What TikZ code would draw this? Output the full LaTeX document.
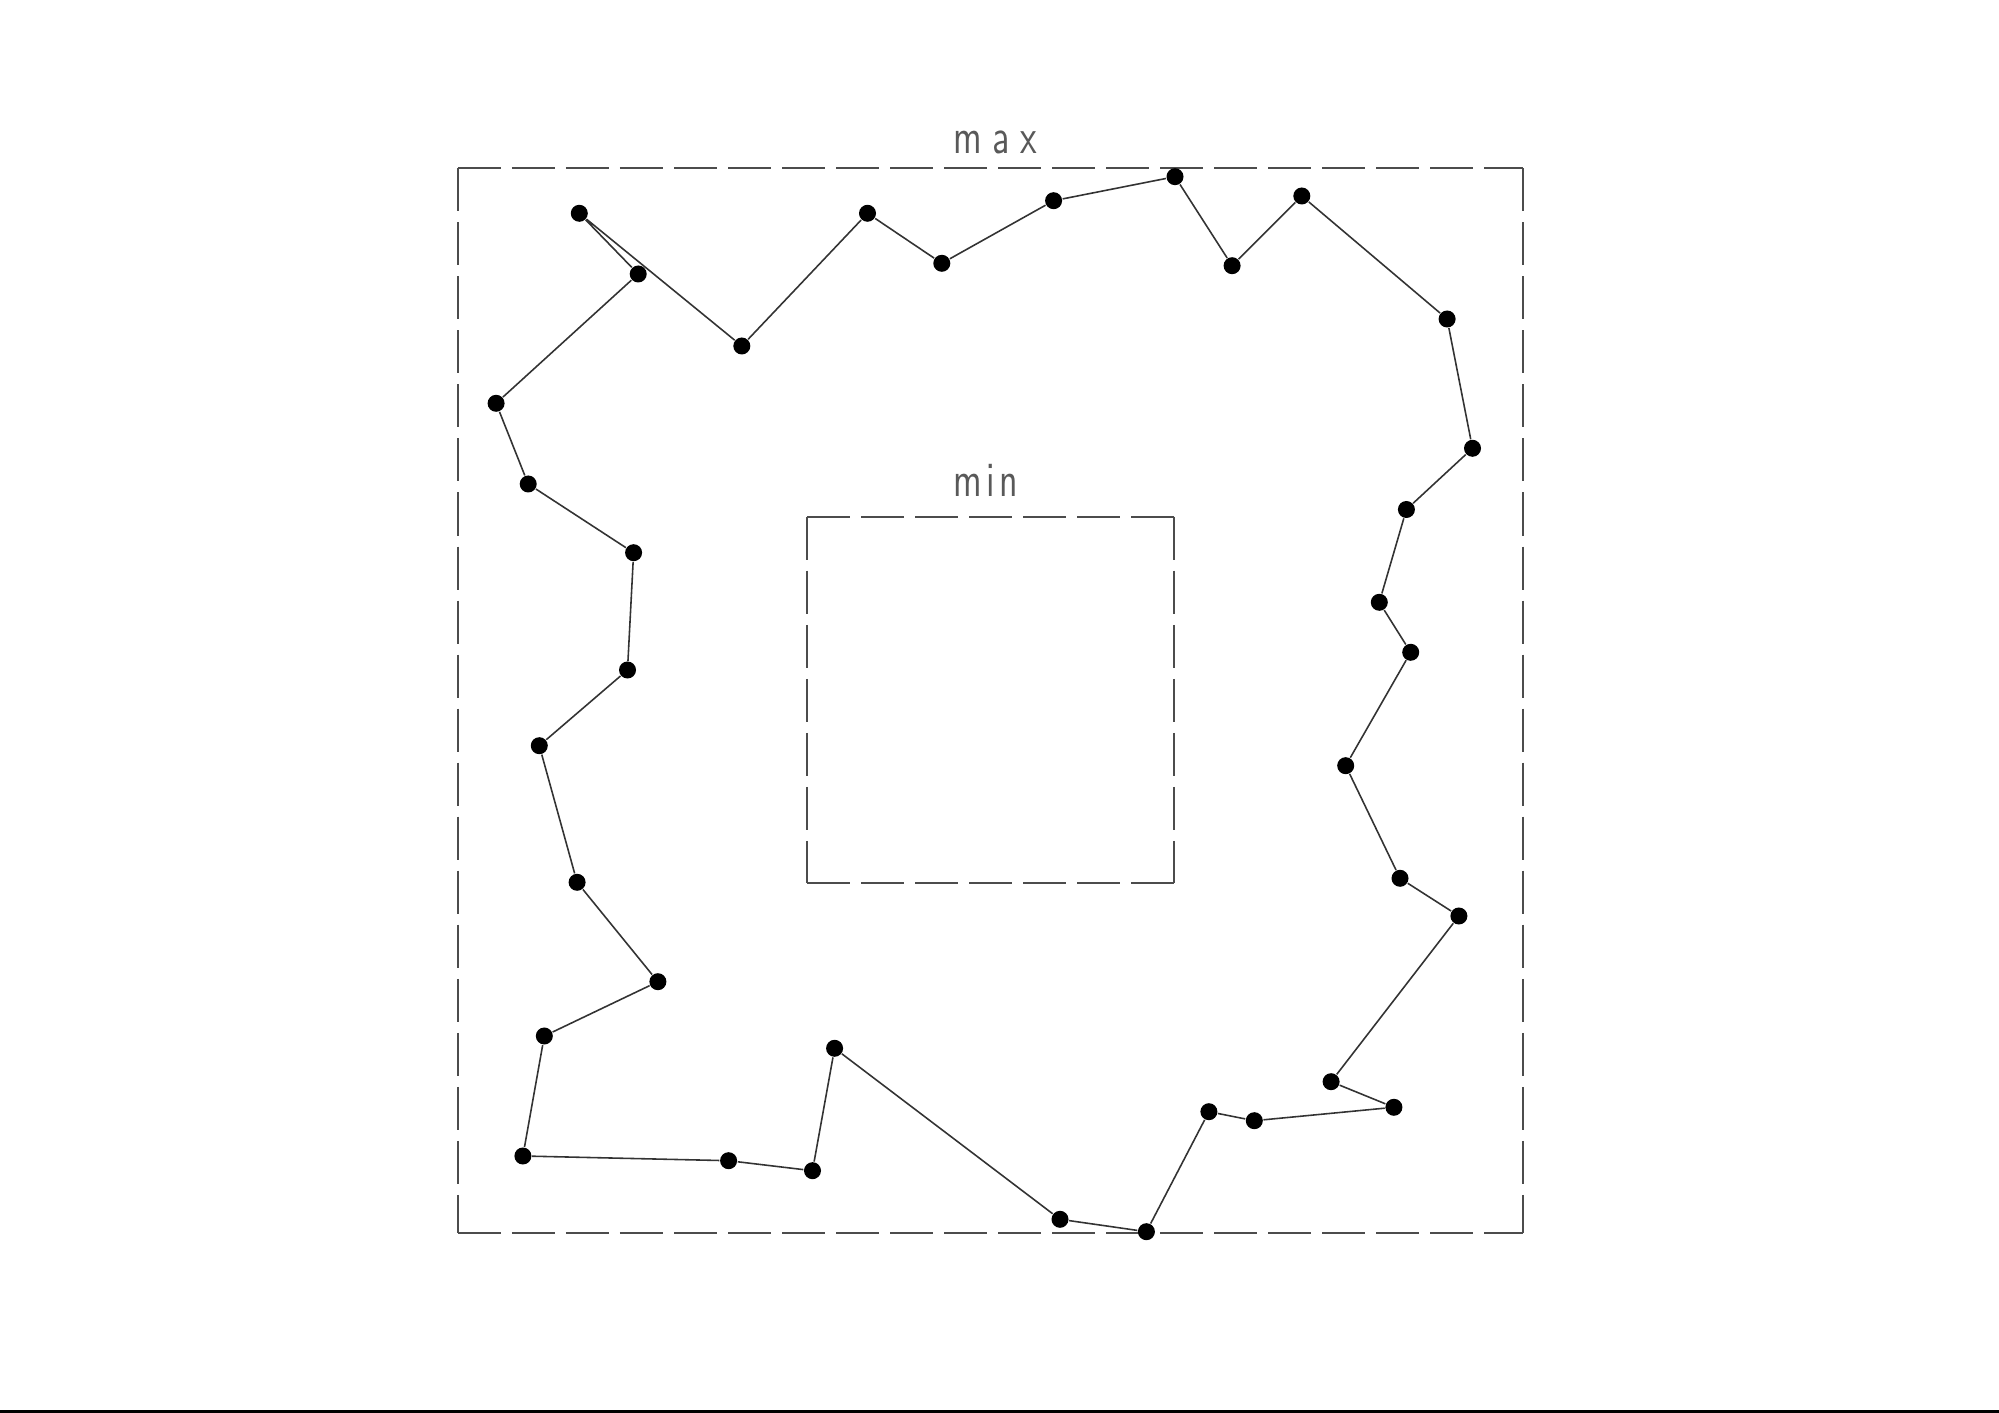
\documentclass[tikz,border=0pt]{standalone}
\usepackage{fontspec}
\usepackage{graphicx}
\begin{document}
\begin{tikzpicture}[x=0.01cm,y=-0.01cm,
  dot/.style={circle,fill=black,inner sep=0pt,minimum size=0.17cm},
  boxline/.style={draw=black!70,line width=0.5pt,dash pattern=on 0.43cm off 0.11cm},
  link/.style={draw=black!80,line width=0.45pt},
  lab/.style={anchor=base west,inner sep=0pt,text=black!65,font=\sffamily\fontsize{14}{16}\selectfont}]
\useasboundingbox (0,0) rectangle (1999,1413);
\fill[black] (0,1410) rectangle (1999,1413);
% max box
\coordinate (M1) at (457.9,168.3);
\coordinate (M2) at (1523.2,168.3);
\coordinate (M3) at (1523.2,1232.7);
\coordinate (M4) at (457.9,1232.7);
\draw[boxline] (M1) -- (M2);
\draw[boxline] (M2) -- (M3);
\draw[boxline] (M1) -- (M4);
\draw[boxline] (M4) -- (M3);
% min box
\coordinate (N1) at (807.1,516.7);
\coordinate (N2) at (1173.9,516.7);
\coordinate (N3) at (1173.9,883.3);
\coordinate (N4) at (807.1,883.3);
\draw[boxline] (N1) -- (N2);
\draw[boxline] (N2) -- (N3);
\draw[boxline] (N1) -- (N4);
\draw[boxline] (N4) -- (N3);
\node[lab] (tmax) at (952.7,153.3) {\scalebox{0.75}[1]{m\kern4pt a\kern4pt x}};
\node[lab] (tmin) at (952.7,496.7) {\scalebox{0.75}[1]{m\kern1.8pt i\kern1.8pt n}};
% points
\node[dot] (p1) at (579.3,213.3) {};
\node[dot] (p2) at (638.2,274) {};
\node[dot] (p3) at (741.8,346) {};
\node[dot] (p4) at (867.5,213.3) {};
\node[dot] (p5) at (941.8,263.3) {};
\node[dot] (p6) at (1053.6,200.7) {};
\node[dot] (p7) at (1175,176.7) {};
\node[dot] (p8) at (1232.1,265.7) {};
\node[dot] (p9) at (1301.8,196) {};
\node[dot] (p10) at (1447.1,319) {};
\node[dot] (p11) at (1472.5,448.3) {};
\node[dot] (p12) at (1406.4,509.5) {};
\node[dot] (r2) at (1379.3,602.3) {};
\node[dot] (r3) at (1410.7,652.3) {};
\node[dot] (r4) at (1345.7,765.7) {};
\node[dot] (r5) at (1400,878.3) {};
\node[dot] (r6) at (1458.9,916) {};
\node[dot] (r7) at (1331.1,1081.7) {};
\node[dot] (r8) at (1393.9,1107.3) {};
\node[dot] (r9) at (1254.3,1120.7) {};
\node[dot] (r10) at (1208.9,1111.7) {};
\node[dot] (b5) at (1146.4,1231.7) {};
\node[dot] (b4) at (1060,1219.3) {};
\node[dot] (b3) at (834.6,1048.3) {};
\node[dot] (b2) at (812.5,1170.7) {};
\node[dot] (b1) at (728.6,1160.7) {};
\node[dot] (l9) at (522.9,1156) {};
\node[dot] (l8) at (544.3,1036) {};
\node[dot] (l7) at (657.9,981.7) {};
\node[dot] (l6) at (577.1,882.3) {};
\node[dot] (l5) at (539.3,745.7) {};
\node[dot] (l4) at (627.5,670) {};
\node[dot] (l3) at (633.6,552.7) {};
\node[dot] (l2) at (528.2,484) {};
\node[dot] (l1) at (496.1,403.3) {};
\draw[link] (p1) -- (p2) -- (l1) -- (l2) -- (l3) -- (l4) -- (l5) -- (l6) -- (l7) -- (l8) -- (l9)
  -- (b1) -- (b2) -- (b3) -- (b4) -- (b5) -- (r10) -- (r9) -- (r8) -- (r7) -- (r6) -- (r5)
  -- (r4) -- (r3) -- (r2) -- (p12) -- (p11) -- (p10) -- (p9) -- (p8) -- (p7) -- (p6) -- (p5)
  -- (p4) -- (p3) -- (p1);
\end{tikzpicture}
\end{document}
